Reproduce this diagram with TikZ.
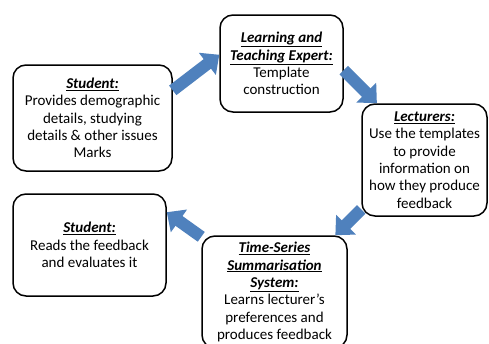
\documentclass[tikz,border=0pt]{standalone}
\usepackage{fontspec}
\setmainfont{Carlito}
\usetikzlibrary{arrows.meta}
\definecolor{arrowblue}{HTML}{4F81BD}
\newcommand{\ttl}[1]{\underline{\textbf{\textit{#1}}}}
\begin{document}
\begin{tikzpicture}[x=1pt,y=-1pt,
  box/.style={draw=black,line width=1.5pt,rounded corners=13pt,fill=white,
    align=center,inner sep=2pt,font=\fontsize{15pt}{17.3pt}\selectfont},
  barrow/.style={line width=12pt,draw=arrowblue,
    -{Triangle[length=15pt,width=27pt]}}]
\useasboundingbox (0,0) rectangle (489,343);
\fill[white] (0,0) rectangle (489,343);
\node[box,minimum width=159pt,minimum height=106pt] (s1) at (92.5,118)
  {\ttl{Student:}\\Provides demographic\\details, studying\\details \& other issues\\Marks};
\node[box,minimum width=123pt,minimum height=97pt] (lte) at (281.5,63.5)
  {\ttl{Learning and}\\\ttl{Teaching Expert:}\\Template\\construction};
\node[box,minimum width=125pt,minimum height=112pt] (lec) at (424.5,160)
  {\ttl{Lecturers:}\\Use the templates\\to provide\\information on\\how they produce\\feedback};
\node[box,minimum width=153pt,minimum height=102pt] (s2) at (89.5,245)
  {\ttl{Student:}\\Reads the feedback\\and evaluates it};
\node[box,minimum width=145pt,minimum height=112pt] (ts) at (274.5,292)
  {\ttl{Time-Series}\\\ttl{Summarisation}\\\ttl{System:}\\Learns lecturer’s\\preferences and\\produces feedback};
\draw[barrow] (s1.19) -- (lte.172);
\draw[barrow] (lte.-6) -- (lec.130);
\draw[barrow] (lec.218) -- (ts.43);
\draw[barrow] (ts.143) -- (s2.23);
\end{tikzpicture}
\end{document}
